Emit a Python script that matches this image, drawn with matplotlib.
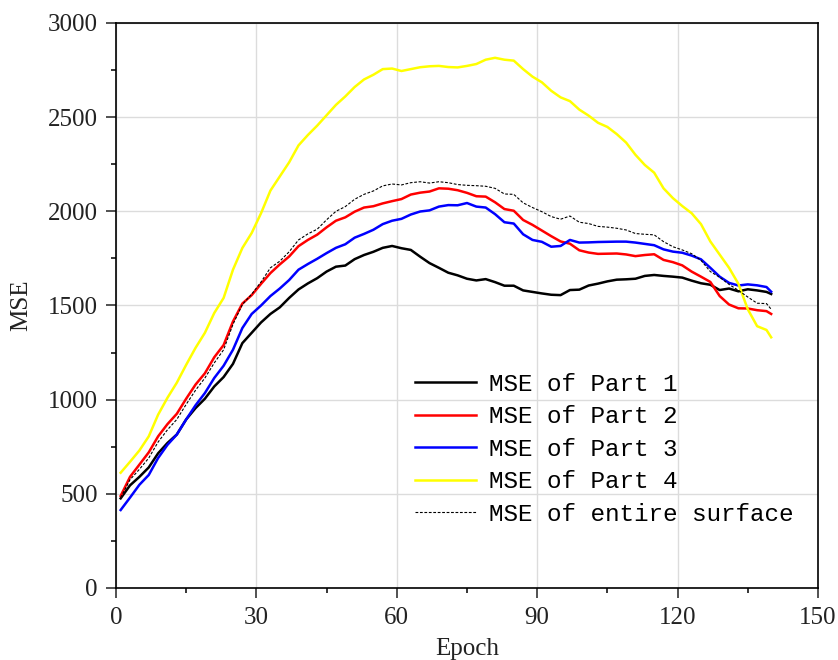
import matplotlib.pyplot as plt
import numpy as np

# epochs sampled every 2, plus the last one
epoch = list(range(1, 140, 2)) + [140]

mse_part1 = [476, 545, 590, 640, 715, 770, 815, 895, 955, 1005,
             1070, 1120, 1190, 1300, 1355, 1410, 1455, 1490, 1540, 1585,
             1617, 1645, 1680, 1706, 1712, 1746, 1768, 1785, 1806, 1816,
             1804, 1795, 1759, 1725, 1700, 1674, 1660, 1642, 1633, 1640,
             1624, 1605, 1605, 1580, 1572, 1564, 1557, 1555, 1582, 1584,
             1606, 1616, 1628, 1637, 1639, 1642, 1657, 1662, 1657, 1653,
             1648, 1632, 1618, 1610, 1582, 1590, 1575, 1586, 1580, 1572, 1561]

mse_part2 = [489, 590, 655, 720, 805, 870, 925, 1005, 1080, 1140,
             1225, 1290, 1415, 1510, 1555, 1615, 1672, 1718, 1760, 1815,
             1848, 1876, 1915, 1950, 1968, 1998, 2020, 2027, 2042, 2054,
             2065, 2089, 2099, 2105, 2122, 2120, 2112, 2098, 2080, 2078,
             2048, 2012, 2003, 1954, 1928, 1898, 1868, 1840, 1828, 1793,
             1781, 1774, 1775, 1776, 1771, 1762, 1768, 1772, 1742, 1730,
             1713, 1680, 1653, 1625, 1550, 1505, 1485, 1484, 1475, 1470, 1455]

mse_part3 = [414, 480, 548, 600, 690, 760, 815, 895, 970, 1035,
             1115, 1180, 1265, 1380, 1455, 1500, 1550, 1590, 1635, 1690,
             1720, 1748, 1778, 1806, 1825, 1860, 1880, 1902, 1932, 1950,
             1960, 1983, 1999, 2005, 2025, 2033, 2032, 2044, 2025, 2020,
             1985, 1942, 1935, 1878, 1848, 1838, 1812, 1816, 1848, 1834,
             1835, 1837, 1838, 1839, 1839, 1834, 1827, 1820, 1798, 1786,
             1780, 1765, 1745, 1700, 1653, 1620, 1606, 1612, 1607, 1598, 1573]

mse_part4 = [612, 670, 730, 805, 920, 1010, 1090, 1185, 1275, 1355,
             1460, 1540, 1690, 1805, 1885, 1990, 2110, 2185, 2260, 2350,
             2405, 2455, 2510, 2565, 2610, 2660, 2700, 2725, 2755, 2758,
             2745, 2755, 2765, 2770, 2772, 2766, 2764, 2772, 2782, 2805,
             2815, 2805, 2800, 2755, 2715, 2685, 2640, 2605, 2585, 2540,
             2508, 2470, 2448, 2410, 2365, 2300, 2246, 2205, 2122, 2070,
             2028, 1990, 1932, 1840, 1770, 1700, 1615, 1480, 1390, 1370, 1331]

mse_entire = [480, 575, 630, 690, 775, 840, 895, 975, 1050, 1115,
              1195, 1265, 1400, 1505, 1560, 1625, 1700, 1735, 1785, 1848,
              1880, 1905, 1955, 2000, 2025, 2064, 2090, 2108, 2135, 2145,
              2140, 2152, 2157, 2150, 2157, 2152, 2142, 2138, 2136, 2133,
              2122, 2092, 2090, 2045, 2020, 1998, 1972, 1958, 1975, 1942,
              1935, 1920, 1916, 1910, 1901, 1882, 1878, 1875, 1839, 1812,
              1795, 1775, 1740, 1680, 1650, 1612, 1580, 1545, 1512, 1510, 1480]

labels = ['MSE of Part 1', 'MSE of Part 2', 'MSE of Part 3', 'MSE of Part 4',
          'MSE of entire surface']

plt.rcParams['font.family'] = ['Liberation Serif', 'DejaVu Serif']

fig = plt.figure(figsize=(8.38, 6.6), dpi=100)
ax = fig.add_axes([0.1384, 0.1091, 0.8377, 0.8561])

ax.plot(epoch, mse_part1, color='black', lw=1.8, label=labels[0])
ax.plot(epoch, mse_part2, color='red', lw=1.8, label=labels[1])
ax.plot(epoch, mse_part3, color='blue', lw=1.8, label=labels[2])
ax.plot(epoch, mse_part4, color='yellow', lw=1.8, label=labels[3])
ax.plot(epoch, mse_entire, color='black', lw=0.8, ls=(0, (2.5, 1.5)), label=labels[4])

ax.set_xlim(0, 150)
ax.set_ylim(0, 3000)
ax.set_xticks(np.arange(0, 151, 30))
ax.set_xticks(np.arange(15, 150, 30), minor=True)
ax.set_yticks(np.arange(0, 3001, 500))
ax.set_yticks(np.arange(250, 3000, 500), minor=True)
ax.tick_params(which='major', direction='out', length=7, width=1.1, labelsize=18,
               color='#222222', labelcolor='#222222')
ax.tick_params(axis='x', which='major', pad=7)
ax.tick_params(axis='y', which='major', pad=6)
ax.tick_params(which='minor', direction='out', length=3.5, width=1.1)
ax.grid(True, which='major', color='#dcdcdc', lw=1.0)
ax.set_axisbelow(True)
for s in ax.spines.values():
    s.set_linewidth(1.2)

ax.set_xlabel('Epoch', fontsize=18, labelpad=6, color='#222222')
ax.set_ylabel('MSE', fontsize=18, labelpad=11, color='#222222')

ax.legend(loc='upper left', bbox_to_anchor=(0.426, 0.381), frameon=False,
          prop={'family': 'Liberation Mono', 'size': 17.5},
          handlelength=2.5, handletextpad=0.55, labelspacing=0.39,
          borderpad=0, borderaxespad=0)

plt.savefig('out.png', dpi=100)
